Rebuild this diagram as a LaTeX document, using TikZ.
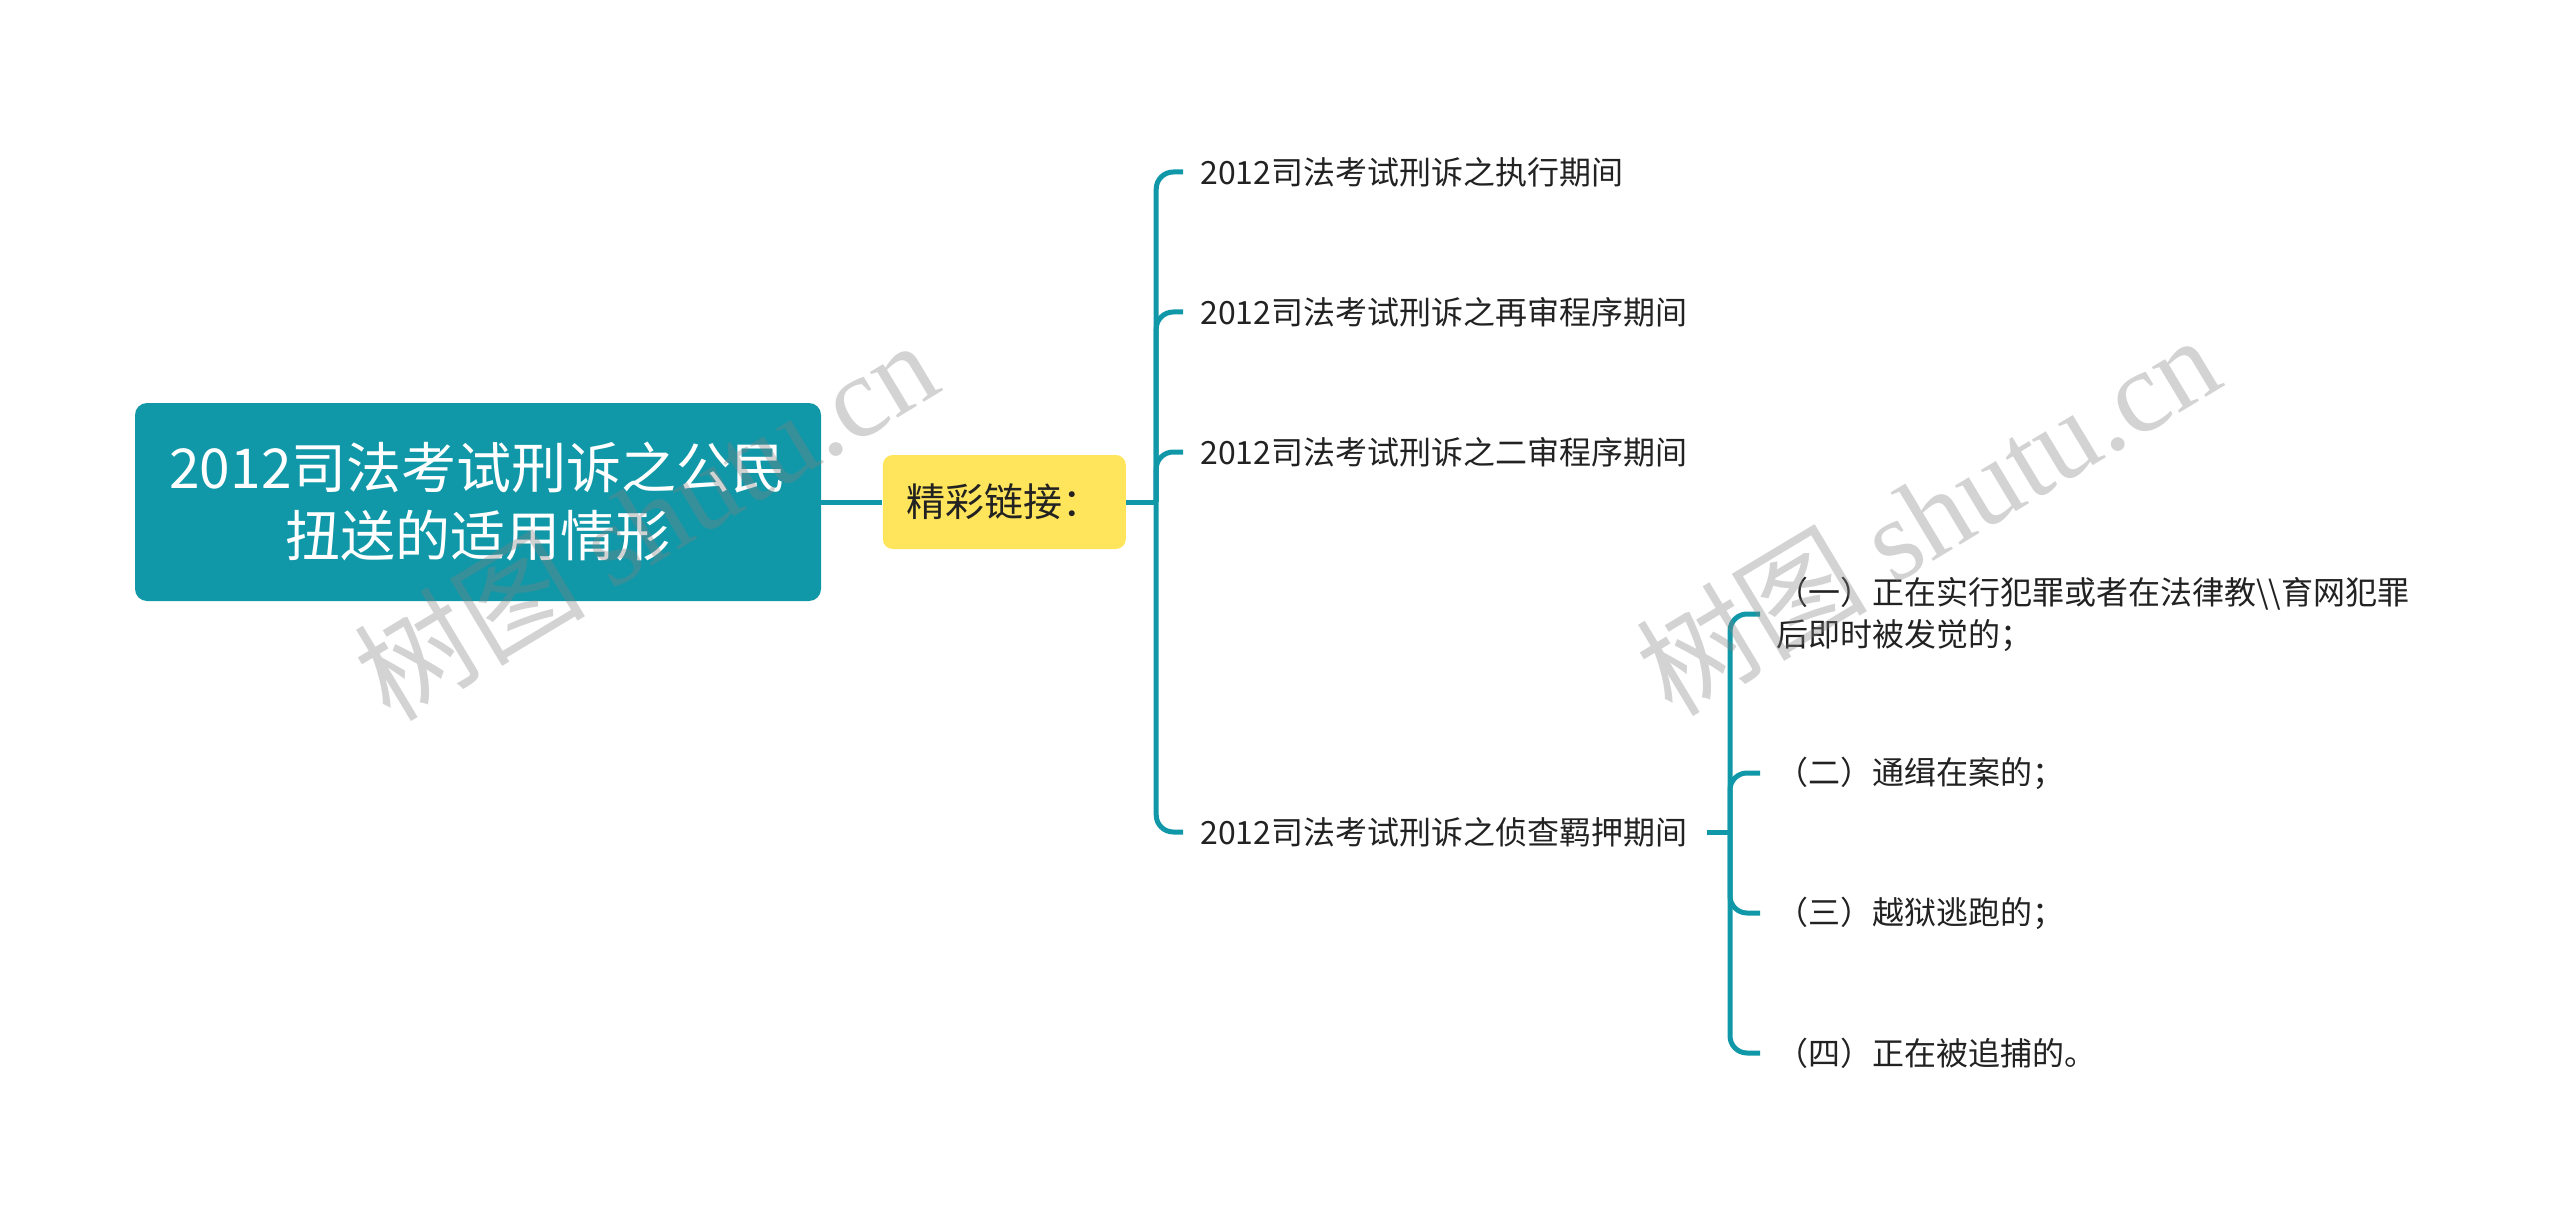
\documentclass[tikz,border=0pt]{standalone}
\usepackage{fontspec}
\setmainfont{Noto Sans CJK SC}
\newfontfamily\wmfont{Liberation Serif}
\usepackage{xcolor}
\definecolor{mapteal}{RGB}{16, 152, 168}
\definecolor{mapyellow}{RGB}{255, 229, 92}
\definecolor{ink}{RGB}{34, 34, 34}
\usetikzlibrary{positioning}

\begin{document}
\begin{tikzpicture}[
  x=0.5pt, y=-0.5pt,
  rootbox/.style={fill=mapteal, text=white, rounded corners=6pt, align=center, minimum width=343pt, minimum height=99pt, inner sep=0pt, font=\fontsize{27.5}{34}\selectfont},
  linkbox/.style={fill=mapyellow, text=ink, rounded corners=5pt, minimum width=121.5pt, minimum height=47pt, inner sep=0pt, font=\fontsize{19.5}{23}\selectfont},
  leaf/.style={anchor=west, inner sep=0pt, text=ink, align=left, font=\fontsize{16}{21}\selectfont},
  link/.style={draw=mapteal, line width=2.5pt, rounded corners=8.5pt},
  watermark/.style={rotate=31, text=gray, text opacity=0.35, inner sep=0pt, font=\fontsize{58}{60}\selectfont}
]
\useasboundingbox (0,0) rectangle (2560,1225);

% main topic and link box
\node[rootbox] (root) at (478,502) {2012司法考试刑诉之公民\\扭送的适用情形};
\node[linkbox, right=30.5pt of root] (jc) {精彩链接：};

% first level
\node[leaf] (zx) at (1200,172) {2012司法考试刑诉之执行期间};
\node[leaf] (zs) at (1200,312) {2012司法考试刑诉之再审程序期间};
\node[leaf] (es) at (1200,452) {2012司法考试刑诉之二审程序期间};
\node[leaf] (zc) at (1200,832) {2012司法考试刑诉之侦查羁押期间};

% second level
\node[leaf] (c1) at (1776,614) {（一）正在实行犯罪或者在法律教\textbackslash\textbackslash 育网犯罪\\后即时被发觉的；};
\node[leaf] (c2) at (1776,773) {（二）通缉在案的；};
\node[leaf] (c3) at (1776,913) {（三）越狱逃跑的；};
\node[leaf] (c4) at (1776,1053) {（四）正在被追捕的。};

\coordinate[right=15pt of jc] (sp1);
\coordinate (sp2) at (1730,832);

\draw[link] (root) -- (jc);
\draw[link] (jc) -- (sp1);
\foreach \n in {zx,zs,es,zc}
  \draw[link] (sp1) |- ([xshift=-8.5pt]\n.west);

\draw[link] ([xshift=9.5pt]zc.east) -- (sp2);
\foreach \n in {c1,c2,c3,c4}
  \draw[link] (sp2) |- ([xshift=-8pt]\n.west);

% watermarks
\node[watermark] (wm1) at (645,519) {树图 {\wmfont shutu.cn}};
\node[watermark] (wm2) at (1927,514) {树图 {\wmfont shutu.cn}};
\end{tikzpicture}
\end{document}
